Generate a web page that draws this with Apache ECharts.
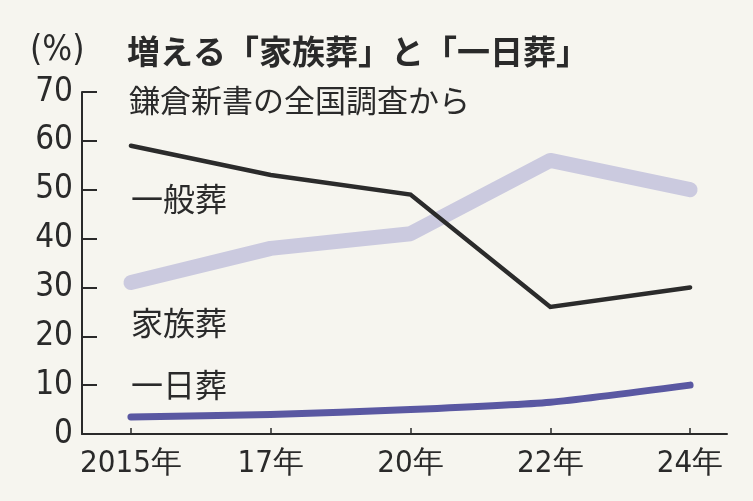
<!DOCTYPE html>
<html><head><meta charset="utf-8">
<script src="https://cdn.jsdelivr.net/npm/echarts@6/dist/echarts.min.js"></script>
<style>html,body{margin:0;padding:0;background:#f6f5ef;}#c{width:753px;height:501px;}</style>
</head><body><div id="c"></div>
<script>
var categories = ['2015年', '17年', '20年', '22年', '24年'];
var ippanso = [59, 53, 49, 26, 30];
var kazokuso = [31, 38, 41, 56, 50];
var ichinichiso = [3.5, 4, 5, 6.5, 10];
var yTicks = [0, 10, 20, 30, 40, 50, 60, 70];

var idx = categories.map(function (c, i) { return i; });
function pts(arr) { return arr.map(function (v, i) { return [i, v]; }); }
var NUM = '"Liberation Sans Narrow","DejaVu Sans Condensed",sans-serif';
var JP = '"Noto Sans CJK JP",sans-serif';

var chart = echarts.init(document.getElementById('c'), null, {renderer: 'canvas'});
chart.setOption({
  backgroundColor: '#f6f5ef',
  animation: false,
  title: [
    {text: '(%)', left: 25, top: 28, textStyle: {fontFamily: NUM, fontSize: 35, fontWeight: 'normal', color: '#2a2a2a'}},
    {text: '増える「家族葬」と「一日葬」', left: 122, top: 30, textStyle: {fontFamily: JP, fontSize: 33, fontWeight: 'bold', color: '#2a2a2a'}},
    {text: '鎌倉新書の全国調査から', left: 124, top: 80, textStyle: {fontFamily: JP, fontSize: 31, fontWeight: 'normal', color: '#2a2a2a'}},
    {text: '一般葬', left: 126, top: 178, textStyle: {fontFamily: JP, fontSize: 32, fontWeight: 'normal', color: '#2a2a2a'}},
    {text: '家族葬', left: 126, top: 302, textStyle: {fontFamily: JP, fontSize: 32, fontWeight: 'normal', color: '#2a2a2a'}},
    {text: '一日葬', left: 126, top: 364, textStyle: {fontFamily: JP, fontSize: 32, fontWeight: 'normal', color: '#2a2a2a'}}
  ],
  grid: {left: 82, right: 26, top: 92, bottom: 67, containLabel: false},
  xAxis: {
    type: 'value', min: -0.35, max: 4.264,
    axisLine: {show: true, onZero: false, lineStyle: {color: '#2a2a2a', width: 2}},
    axisTick: {show: true, inside: true, length: 6, customValues: idx, lineStyle: {color: '#2a2a2a', width: 1.5}},
    axisLabel: {customValues: idx, formatter: function (v) { return categories[Math.round(v)]; },
      fontFamily: NUM, fontSize: 31, color: '#2a2a2a', margin: 14},
    splitLine: {show: false}
  },
  yAxis: {
    type: 'value', min: 0, max: 70, interval: 10,
    axisLine: {show: true, onZero: false, lineStyle: {color: '#2a2a2a', width: 2}},
    axisTick: {show: true, inside: true, length: 15, lineStyle: {color: '#2a2a2a', width: 2}},
    axisLabel: {fontFamily: NUM, fontSize: 33, color: '#2a2a2a', margin: 9,
      formatter: function (v) { return yTicks.indexOf(v) >= 0 ? String(v) : ''; }},
    splitLine: {show: false}
  },
  series: [
    {type: 'line', data: pts(kazokuso), symbol: 'none', z: 1,
      lineStyle: {color: '#cbcadf', width: 15, cap: 'round', join: 'round'}},
    {type: 'line', data: pts(ippanso), symbol: 'none', z: 3,
      lineStyle: {color: '#2b2b2b', width: 4.5, cap: 'round', join: 'miter'}},
    {type: 'line', data: pts(ichinichiso), symbol: 'none', z: 2, smooth: 0.2,
      lineStyle: {color: '#5a58a2', width: 7, cap: 'round', join: 'round'}}
  ]
});
</script></body></html>
